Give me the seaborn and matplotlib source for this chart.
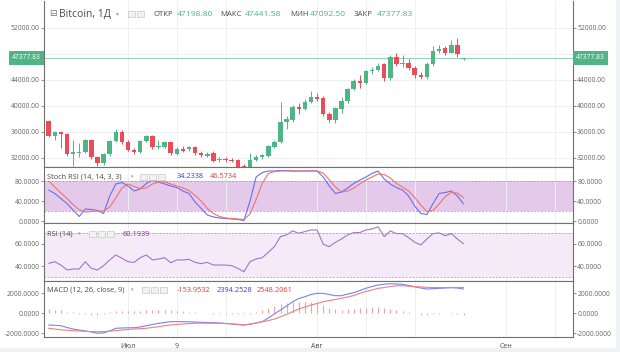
import numpy as np
import pandas as pd
import matplotlib
matplotlib.use("Agg")
import matplotlib.pyplot as plt
import matplotlib.transforms as mtrans
from matplotlib.patches import Rectangle
import seaborn as sns

# Bitcoin, daily candles (2021-06-18 .. 2021-08-25)
opens = [37680, 35350, 36050, 35750, 32600, 32800, 32950, 34750, 32100, 31200,
         32550, 34600, 36000, 34450, 33200, 32950, 34600, 35400, 33620, 33720,
         34380, 32600, 33420, 33300, 33700, 32800, 32350, 32800, 31700, 31850,
         31750, 31650, 30780, 30580, 31700, 32100, 32300, 33720, 34430, 37570,
         37780, 39800, 39560, 40620, 41320, 41170, 38790, 37880, 39560, 40820,
         42600, 43850, 43600, 45300, 45500, 46400, 44370, 47500, 46500, 46650,
         45900, 44800, 44400, 46500, 48500, 48900, 48200, 49400, 47198.80]
highs = [37900, 36150, 36200, 35900, 34700, 34300, 34900, 34900, 32300, 32800,
         34700, 36500, 36300, 34700, 33500, 34800, 35600, 35600, 34700, 34600,
         34500, 33700, 33800, 33900, 33900, 33000, 32900, 33000, 32200, 32100,
         32000, 31900, 31000, 32700, 32400, 32600, 34000, 34700, 40550, 38400,
         40200, 40400, 41000, 42300, 42000, 41500, 39000, 39900, 41400, 42700,
         44100, 44700, 45500, 46000, 46600, 46600, 47900, 48100, 47900, 47200,
         46200, 45200, 46800, 49200, 49400, 49300, 50100, 50500, 47441.58]
lows = [35150, 34750, 33500, 32300, 30700, 32200, 32700, 31900, 30700, 30900,
        32300, 34400, 34200, 33000, 32600, 32800, 34400, 33400, 33400, 33500,
        32400, 32400, 32900, 33100, 32500, 32200, 32100, 31400, 31400, 31400,
        31300, 30400, 30200, 30300, 31500, 31900, 32100, 33500, 34300, 36500,
        37500, 38700, 39300, 40400, 40800, 38500, 37500, 37300, 38900, 40500,
        42400, 42800, 43300, 44900, 45300, 43800, 44000, 46200, 46000, 45600,
        44300, 44100, 44200, 46200, 48200, 47900, 48100, 47600, 47092.50]
closes = [35350, 36050, 35750, 32600, 32900, 32950, 34750, 32100, 31200, 32600,
          34600, 36000, 34450, 33200, 32850, 34600, 35400, 33700, 33820, 34380,
          32700, 33320, 33100, 33680, 32780, 32450, 32650, 31600, 31850, 31700,
          31500, 30580, 30430, 31700, 32200, 32400, 33820, 34430, 37520, 37980,
          39900, 39500, 40620, 41320, 41120, 38690, 37880, 39650, 40820, 42600,
          43850, 43600, 45300, 45500, 46150, 44370, 47500, 46500, 46650, 45900,
          44800, 44400, 46500, 48500, 48700, 48200, 49350, 48000, 47377.83]

# indicators
stoch_k = [62, 55, 45, 35, 22, 9, 24, 23, 21, 15, 50, 74, 77, 70, 60, 64, 75, 82, 78, 74,
           70, 67, 60, 55, 38, 25, 12, 8, 6, 5, 4, 3, 1, 40, 88, 97, 100, 100, 101, 101,
           100, 100, 100, 100, 100, 88, 70, 55, 58, 66, 75, 82, 88, 95, 100, 84, 74, 67, 62, 50,
           30, 15, 13, 35, 55, 57, 60, 50, 34.2338]
stoch_d = [80, 68, 56, 45, 33, 22, 18, 19, 20, 20, 28, 46, 66, 74, 69, 65, 66, 74, 78, 78,
           74, 70, 66, 61, 51, 40, 25, 15, 9, 6, 5, 4, 3, 14, 43, 75, 95, 99, 100, 100,
           100, 100, 100, 100, 100, 96, 82, 68, 58, 60, 66, 74, 82, 88, 94, 93, 86, 75, 68, 60,
           47, 32, 19, 21, 34, 49, 57, 56, 46.5734]
rsi = [42.4, 43.9, 40.9, 36.4, 37.3, 37.3, 43.9, 37.9, 36.4, 40.3, 45.5, 50.0, 47.0, 43.9,
       43.3, 47.5, 50.0, 45.5, 46.4, 47.5, 43.0, 45.5, 45.5, 46.0, 43.3, 42.1, 43.3, 40.9,
       40.9, 40.9, 40.3, 37.9, 34.8, 43.9, 46.4, 47.5, 52.5, 57.6, 66.7, 68.2, 71.8, 69.7,
       71.2, 72.7, 72.7, 59.7, 57.6, 61.5, 64.5, 68.2, 70.3, 70.3, 72.7, 73.6, 75.5, 66.7,
       71.8, 69.4, 69.4, 65.7, 61.5, 59.1, 64.5, 69.4, 70.0, 67.5, 69.4, 64.5, 60.1939]
macd = [-1200, -1230, -1270, -1450, -1600, -1700, -1800, -1900, -2030, -1990, -1800, -1530,
        -1500, -1480, -1470, -1400, -1270, -1150, -1030, -950, -870, -860, -870, -880,
        -900, -930, -950, -970, -1000, -1050, -1100, -1150, -1200, -1130, -1000, -870, -500,
        -100, 300, 700, 1130, 1450, 1630, 1850, 1970, 1970, 1850, 1730, 1730, 1900, 2030,
        2250, 2470, 2650, 2800, 2880, 2930, 2900, 2870, 2750, 2630, 2500, 2400, 2430, 2470,
        2500, 2530, 2500, 2394.2528]
signal = [-1530, -1600, -1680, -1720, -1770, -1800, -1830, -1860, -1870, -1850, -1820,
          -1770, -1700, -1650, -1600, -1560, -1530, -1450, -1370, -1280, -1200, -1150,
          -1100, -1060, -1030, -1020, -1020, -1030, -1030, -1050, -1080, -1130, -1200, -1100,
          -1000, -870, -760, -600, -380, -130, 130, 400, 600, 800, 950, 1130, 1250, 1350,
          1470, 1600, 1750, 1970, 2150, 2300, 2470, 2550, 2650, 2730, 2720, 2680, 2630, 2600,
          2570, 2550, 2540, 2540, 2550, 2550, 2548.2061]
hist = [400, 350, 300, 150, 100, -50, -100, -150, -150, -100, 100, 200, 250, 250, 200,
        250, 300, 300, 300, 300, 300, 250, 200, 150, 100, 50, 0, -50, -50, -80, -100,
        -120, -100, -50, 100, 300, 500, 700, 900, 1050, 1150, 1150, 1150, 1100, 1000, 800,
        550, 400, 350, 400, 450, 500, 550, 600, 600, 500, 450, 350, 250, 150, 0, -150,
        -200, -100, -50, 0, -50, -100, -153.9532]

start = pd.Timestamp("2021-06-18")
tick_dates = ["2021-07-01", "2021-07-09", "2021-07-17", "2021-08-01", "2021-08-09",
              "2021-08-17", "2021-09-01", "2021-09-09"]
tick_labels = ["Июл", "9", "", "Авг", "", "", "Сен", ""]
price_ticks = [32000, 36000, 40000, 44000, 48000, 52000]

UP, DOWN = "#4fb584", "#ec4b5a"
GRID = "#eef0f3"
AXC = "#707070"
TXT = "#4a4a4a"

sns.set_theme(style="white")
plt.rcParams["font.family"] = ["Open Sans", "DejaVu Sans"]

W, H = 620, 352
fig = plt.figure(figsize=(6.2, 3.52), dpi=100)
fig.patch.set_facecolor("white")


def panel(top, bottom):
    return fig.add_axes([44 / W, 1 - bottom / H, 529 / W, (bottom - top) / H])


def px(x, y):
    return x / W, 1 - y / H


ax_p = panel(1, 167)
ax_s = panel(167, 223)
ax_r = panel(223, 281)
ax_m = panel(281, 337)

df = pd.DataFrame({"o": opens, "h": highs, "l": lows, "c": closes,
                   "k": stoch_k, "d": stoch_d, "rsi": rsi,
                   "macd": macd, "sig": signal, "hst": hist})
df["i"] = np.arange(len(df))
tick_pos = [(pd.Timestamp(t) - start).days for t in tick_dates]

for ax in [ax_p, ax_s, ax_r, ax_m]:
    ax.set_facecolor("white")
    ax.set_xlim(-0.77, 85.95)
    ax.set_xticks(tick_pos)
    ax.grid(axis="x", color=GRID, lw=0.7)
    ax.tick_params(axis="y", left=True, right=True, labelleft=True, labelright=True,
                   labelsize=4.9, colors="#666666", length=2, width=0.5, pad=1)
    ax.tick_params(axis="x", labelbottom=False, length=0)
    for s in ax.spines.values():
        s.set_color(AXC)
        s.set_linewidth(0.8)
ax_p.spines["top"].set_visible(False)

# candles
col = [UP if c >= o else DOWN for o, c in zip(df["o"], df["c"])]
ax_p.vlines(df["i"], df["l"], df["h"], colors=col, lw=0.7, zorder=2)
ax_p.bar(df["i"], df["c"] - df["o"], bottom=df["o"], width=0.74, color=col,
         edgecolor="none", linewidth=0, zorder=3)
ax_p.set_ylim(30600, 56150)
ax_p.set_yticks(price_ticks)
ax_p.set_yticklabels(["" if v == 48000 else f"{v:.2f}" for v in price_ticks])
ax_p.grid(axis="y", color=GRID, lw=0.7)
last = closes[-1]
ax_p.axhline(last, color=UP, lw=0.6, alpha=0.7, zorder=1)
tr = mtrans.blended_transform_factory(ax_p.transAxes, ax_p.transData)
for xx, ha in [(-0.006, "right"), (1.006, "left")]:
    ax_p.text(xx, last, f"{last:.2f}", transform=tr, ha=ha, va="center", fontsize=4.9,
              color="white", bbox=dict(boxstyle="square,pad=0.5", fc=UP, ec="none"))

# stoch rsi
ax_s.axhspan(20, 80, color="#e5c9ea", lw=0, zorder=0)
for v in (20, 80):
    ax_s.axhline(v, color="#9a9a9a", lw=0.5, ls=(0, (3, 2)))
sns.lineplot(data=df, x="i", y="k", ax=ax_s, color="#6a6ff0", lw=0.8)
sns.lineplot(data=df, x="i", y="d", ax=ax_s, color="#f07272", lw=0.8)
ax_s.set_ylim(-4, 108)
ax_s.set_yticks([0, 40, 80])
ax_s.set_yticklabels(["0.0000", "40.0000", "80.0000"])

# rsi
ax_r.axhspan(30, 70, color="#f5eaf7", lw=0, zorder=0)
for v in (30, 70):
    ax_r.axhline(v, color="#9a9a9a", lw=0.5, ls=(0, (3, 2)))
sns.lineplot(data=df, x="i", y="rsi", ax=ax_r, color="#a575c5", lw=0.8)
ax_r.set_ylim(26.4, 79)
ax_r.set_yticks([40, 60])
ax_r.set_yticklabels(["40.0000", "60.0000"])

# macd
ax_m.vlines(df["i"], 0, df["hst"], colors="#f2a3a3", lw=0.8)
sns.lineplot(data=df, x="i", y="macd", ax=ax_m, color="#7d80f2", lw=0.8)
sns.lineplot(data=df, x="i", y="sig", ax=ax_m, color="#f08080", lw=0.8)
ax_m.set_ylim(-2400, 3200)
ax_m.set_yticks([-2000, 0, 2000])
ax_m.set_yticklabels(["-2000.0000", "0.0000", "2000.0000"])
ax_m.set_xticklabels(tick_labels)
ax_m.tick_params(axis="x", labelbottom=True, length=2, width=0.5, colors=TXT,
                 labelsize=5, pad=2)
for ax in [ax_p, ax_s, ax_r, ax_m]:
    ax.set_xlabel("")
    ax.set_ylabel("")


def icons(xs, y, w=7, h=6):
    for x0 in xs:
        fig.patches.append(Rectangle(px(x0, y + h / 2), w / W, h / H, transform=fig.transFigure,
                                     fc="#f2f2f2", ec="#c8c8c8", lw=0.5))


# header texts
fig.text(*px(49, 14), "⊟", fontsize=6.5, color="#777777", va="center", family="DejaVu Sans")
fig.text(*px(59, 14), "Bitcoin, 1Д", fontsize=7.5, color=TXT, va="center")
fig.text(*px(116, 14), "▾", fontsize=4, color="#999999", va="center", family="DejaVu Sans")
icons([128, 137], 14)
for lab, x0, val, x1 in [("ОТКР", 153, "47198.80", 177), ("МАКС", 220, "47441.58", 245),
                         ("МИН", 290, "47092.50", 310), ("ЗАКР", 354, "47377.83", 377)]:
    fig.text(*px(x0, 14), lab, fontsize=5.6, color=TXT, va="center")
    fig.text(*px(x1, 14), val, fontsize=6.1, color=UP, va="center")

fig.text(*px(47, 177), "Stoch RSI (14, 14, 3, 3)", fontsize=5.3, color=TXT, va="center")
fig.text(*px(131, 177), "▾", fontsize=3.5, color="#999999", va="center", family="DejaVu Sans")
icons([140, 149, 158], 177)
fig.text(*px(177, 177), "34.2338", fontsize=5.3, color="#3c3ce0", va="center")
fig.text(*px(210, 177), "46.5734", fontsize=5.3, color="#e53935", va="center")

fig.text(*px(47, 234), "RSI (14)", fontsize=5.3, color=TXT, va="center")
fig.text(*px(78, 234), "▾", fontsize=3.5, color="#999999", va="center", family="DejaVu Sans")
icons([89, 98, 107], 234)
fig.text(*px(123, 234), "60.1939", fontsize=5.3, color="#8e24aa", va="center")

fig.text(*px(47, 290), "MACD (12, 26, close, 9)", fontsize=5.3, color=TXT, va="center")
fig.text(*px(131, 290), "▾", fontsize=3.5, color="#999999", va="center", family="DejaVu Sans")
icons([142, 151, 160], 290)
fig.text(*px(177, 290), "-153.9532", fontsize=5.3, color="#e53935", va="center")
fig.text(*px(217, 290), "2394.2528", fontsize=5.3, color="#3c3ce0", va="center")
fig.text(*px(257, 290), "2548.2061", fontsize=5.3, color="#e53935", va="center")

# outer light frame
fig.patches.append(Rectangle((0, 0), 1, 4 / H, transform=fig.transFigure, fc="#eef1f5", ec="none"))
fig.patches.append(Rectangle((616 / W, 0), 4 / W, 1, transform=fig.transFigure, fc="#eef1f5", ec="none"))

fig.savefig("out.png", dpi=100)
